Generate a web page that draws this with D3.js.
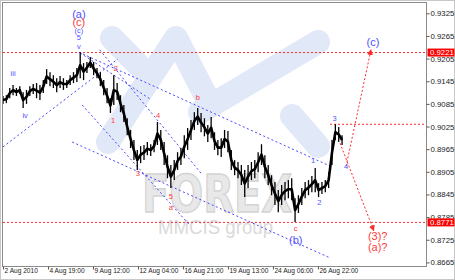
<!DOCTYPE html>
<html>
<head>
<meta charset="utf-8">
<script src="https://cdn.jsdelivr.net/npm/d3@7"></script>
<style>
	body { margin: 0; background: #fff; }
	svg { display: block; font-family: "Liberation Sans", Arial, sans-serif; }
</style>
</head>
<body>
<script>

//axis ticks
var yTickValues = [0.9325, 0.9265, 0.9205, 0.9145, 0.9085, 0.9025, 0.8965, 0.8905, 0.8845, 0.8785, 0.8725, 0.8665];
var xTickBars = [0, 67, 134, 201, 268, 335, 402, 469];
var xTickLabels = ["2 Aug 2010", "4 Aug 19:00", "9 Aug 12:00", "12 Aug 04:00", "16 Aug 21:00", "19 Aug 13:00", "24 Aug 06:00", "26 Aug 22:00"];

//price, one high/low pair every barStep hourly bars
var barStep = 5;
var barHigh = [
	0.9106, 0.9108, 0.9127, 0.9135, 0.9127, 0.9132, 0.9116, 0.9122, 0.9132, 0.9138,
	0.9140, 0.9135, 0.9148, 0.9177, 0.9169, 0.9161, 0.9153, 0.9159, 0.9153, 0.9148,
	0.9161, 0.9169, 0.9180, 0.9222, 0.9193, 0.9196, 0.9209, 0.9196, 0.9180, 0.9169,
	0.9148, 0.9127, 0.9100, 0.9161, 0.9140, 0.9108, 0.9082, 0.9047, 0.9016, 0.8989,
	0.8963, 0.8973, 0.8976, 0.8984, 0.8978, 0.8989, 0.9037, 0.9016, 0.8984, 0.8949,
	0.8923, 0.8936, 0.8957, 0.8968, 0.9002, 0.9021, 0.9042, 0.9063, 0.9074, 0.9061,
	0.9047, 0.9029, 0.9050, 0.9010, 0.8989, 0.8994, 0.9016, 0.9013, 0.8963, 0.8936,
	0.8931, 0.8923, 0.8910, 0.8923, 0.8931, 0.8936, 0.8957, 0.8978, 0.8949, 0.8923,
	0.8896, 0.8878, 0.8857, 0.8870, 0.8878, 0.8883, 0.8888, 0.8835, 0.8843, 0.8862,
	0.8878, 0.8883, 0.8894, 0.8915, 0.8875, 0.8878, 0.8883, 0.8904, 0.8989, 0.9031,
	0.9024, 0.9002
];
var barLow = [
	0.9085, 0.9087, 0.9100, 0.9108, 0.9106, 0.9111, 0.9074, 0.9085, 0.9106, 0.9111,
	0.9100, 0.9095, 0.9114, 0.9138, 0.9132, 0.9127, 0.9116, 0.9127, 0.9122, 0.9127,
	0.9135, 0.9140, 0.9143, 0.9153, 0.9148, 0.9167, 0.9180, 0.9161, 0.9153, 0.9132,
	0.9108, 0.9087, 0.9061, 0.9082, 0.9095, 0.9063, 0.9037, 0.9002, 0.8968, 0.8936,
	0.8910, 0.8928, 0.8936, 0.8949, 0.8947, 0.8957, 0.8976, 0.8963, 0.8923, 0.8888,
	0.8862, 0.8883, 0.8910, 0.8923, 0.8941, 0.8963, 0.8989, 0.9016, 0.9029, 0.9010,
	0.8999, 0.8984, 0.8994, 0.8963, 0.8949, 0.8944, 0.8968, 0.8957, 0.8910, 0.8896,
	0.8888, 0.8870, 0.8838, 0.8862, 0.8883, 0.8888, 0.8904, 0.8923, 0.8888, 0.8870,
	0.8843, 0.8817, 0.8798, 0.8817, 0.8830, 0.8835, 0.8830, 0.8772, 0.8796, 0.8817,
	0.8835, 0.8843, 0.8851, 0.8851, 0.8838, 0.8846, 0.8851, 0.8862, 0.8923, 0.8989,
	0.8984, 0.8976
];

//red target levels (full width) and the level of wave 3
var targetLevels = [0.9221, 0.8771];
var wave3Level = [487, 0.9031];

//blue channel lines, [bar, price] to [bar, price]
var channelLines = [
	[[0, 0.8971], [171, 0.9204]],
	[[113, 0.9222], [491, 0.8917]],
	[[115, 0.9220], [219, 0.9098]],
	[[144, 0.9228], [296, 0.8899]],
	[[118, 0.9082], [278, 0.8764]],
	[[103, 0.8984], [487, 0.8677]]
];

//red forecast arrows
var forecastPaths = [
	[[502, 0.8981], [552, 0.8750]],
	[[511, 0.8920], [548, 0.9228]]
];

//wave counts
var blueBig = [
	{bar: 113, price: 0.9323, text: "(a)"},
	{bar: 436, price: 0.8724, text: "(b)"},
	{bar: 551, price: 0.9249, text: "(c)"}
];
var redBig = [
	{bar: 113, price: 0.9302, text: "(c)"},
	{bar: 558, price: 0.8735, text: "(3)?"},
	{bar: 558, price: 0.8706, text: "(a)?"}
];
var blueSmall = [
	{bar: 113, price: 0.9281, text: "(c)"},
	{bar: 113, price: 0.9260, text: "5"},
	{bar: 113, price: 0.9238, text: "v"},
	{bar: 15, price: 0.9167, text: "iii"},
	{bar: 33, price: 0.9055, text: "iv"},
	{bar: 462, price: 0.8936, text: "1"},
	{bar: 471, price: 0.8825, text: "2"},
	{bar: 494, price: 0.9047, text: "3"},
	{bar: 511, price: 0.8920, text: "4"}
];
var redSmall = [
	{bar: 164, price: 0.9042, text: "1"},
	{bar: 168, price: 0.9180, text: "2"},
	{bar: 201, price: 0.8902, text: "3"},
	{bar: 231, price: 0.9055, text: "4"},
	{bar: 250, price: 0.8840, text: "5"},
	{bar: 250, price: 0.8812, text: "a"},
	{bar: 290, price: 0.9103, text: "b"},
	{bar: 436, price: 0.8756, text: "c"}
];

var params = {
	width: 455,
	height: 280,
	left: 3,
	right: 426,
	top: 3,
	bottom: 266,
	blue: "#4646ff",
	red: "#ff2a2a",
	labelBlue: "#5252ff",
	labelRed: "#ff3c3c"
};

function createSVG(){
	params.svg = d3.select("body").append("svg")
		.attr("width", params.width)
		.attr("height", params.height);

	params.x = d3.scaleLinear()
		.domain([0, 630])
		.range([params.left, params.right]);
	params.y = d3.scaleLinear()
		.domain([0.8665, 0.9325])
		.range([262.4, 13.3]);

	var defs = params.svg.append("defs");
	defs.append("clipPath").attr("id", "plotClip")
		.append("rect")
			.attr("x", params.left).attr("y", params.top)
			.attr("width", params.right - params.left)
			.attr("height", params.bottom - params.top);
	defs.append("marker")
		.attr("id", "arrow")
		.attr("markerUnits", "userSpaceOnUse")
		.attr("markerWidth", 8).attr("markerHeight", 8)
		.attr("refX", 5).attr("refY", 3)
		.attr("orient", "auto")
		.append("path")
			.attr("d", "M0,0L6,3L0,6Z")
			.style("fill", params.red);

	params.plot = params.svg.append("g").attr("clip-path", "url(#plotClip)");
}

//the light logo behind the chart
function drawWatermark(){
	var g = params.plot.append("g").attr("class", "watermark");
	var bands = [
		"M112,38L150,77",
		"M108,142L176,38L210,104",
		"M200,112L318,42",
		"M292,116L318,146"
	];
	g.selectAll("path").data(bands).enter().append("path")
		.attr("d", function(d){ return d; })
		.style("fill", "none")
		.style("stroke", "#e1e8f8")
		.style("stroke-width", 24)
		.style("stroke-linecap", "round")
		.style("stroke-linejoin", "round");

	g.append("text")
		.attr("x", 142).attr("y", 212)
		.attr("textLength", 150).attr("lengthAdjust", "spacingAndGlyphs")
		.style("font-family", "'DejaVu Sans', sans-serif")
		.style("font-weight", "bold")
		.style("font-size", "52px")
		.style("fill", "#e8e8e8")
		.style("stroke", "#d4d4d4")
		.style("stroke-width", 1.5)
		.text("FOREX");
	g.append("text")
		.attr("x", 158).attr("y", 234)
		.attr("textLength", 115).attr("lengthAdjust", "spacingAndGlyphs")
		.style("font-size", "20px")
		.style("fill", "#dadada")
		.text("MMCIS group");
}

function drawAxes(){
	var svg = params.svg;

	//frame
	svg.append("rect")
		.attr("x", 0.5).attr("y", 0.5)
		.attr("width", params.width - 1).attr("height", params.height - 1)
		.style("fill", "none").style("stroke", "#c8c8c8");
	svg.append("rect")
		.attr("x", params.left - 0.5).attr("y", params.top - 0.5)
		.attr("width", params.right - params.left + 1)
		.attr("height", params.bottom - params.top + 1)
		.style("fill", "none").style("stroke", "#8a8a8a");

	//price axis on the right
	var yAxis = d3.axisRight(params.y)
		.tickValues(yTickValues)
		.tickSize(3)
		.tickPadding(1)
		.tickFormat(d3.format(".4f"));
	var gy = svg.append("g")
		.attr("transform", "translate(" + (params.right + 0.5) + ",0)")
		.call(yAxis);
	gy.select(".domain").remove();
	gy.selectAll("line").style("stroke", "#555");
	gy.selectAll("text").style("font-size", "7.8px").style("fill", "#222")
		.style("font-family", "'Liberation Sans', Arial, sans-serif");

	//time axis
	var xAxis = d3.axisBottom(params.x)
		.tickValues(xTickBars)
		.tickSize(3)
		.tickFormat(function(d, i){ return xTickLabels[i]; });
	var gx = svg.append("g")
		.attr("transform", "translate(0," + (params.bottom + 0.5) + ")")
		.call(xAxis);
	gx.select(".domain").remove();
	gx.selectAll("line").style("stroke", "#555");
	gx.selectAll("text")
		.attr("y", 2)
		.attr("x", 1)
		.attr("dy", "0.71em")
		.style("text-anchor", "start")
		.style("font-size", "6.6px")
		.style("fill", "#222")
		.style("font-family", "'Liberation Sans', Arial, sans-serif");

	//red boxes with the target levels
	var boxes = svg.selectAll(".levelBox").data(targetLevels).enter().append("g")
		.attr("class", "levelBox")
		.attr("transform", function(d){ return "translate(" + (params.right + 1.5) + "," + params.y(d) + ")"; });
	boxes.append("rect")
		.attr("x", 0).attr("y", -4)
		.attr("width", params.width - params.right - 2).attr("height", 8)
		.style("fill", "#ff0000");
	boxes.append("text")
		.attr("x", 2.5).attr("dy", "0.33em")
		.style("font-size", "7.8px")
		.style("fill", "#fff")
		.text(function(d){ return d3.format(".4f")(d); });
}

function drawLines(){
	var x = params.x, y = params.y;
	var line = d3.line()
		.x(function(d){ return x(d[0]); })
		.y(function(d){ return y(d[1]); });

	//target levels
	params.plot.selectAll(".level").data(targetLevels).enter().append("line")
		.attr("class", "level")
		.attr("x1", params.left).attr("x2", params.right)
		.attr("y1", function(d){ return y(d); })
		.attr("y2", function(d){ return y(d); })
		.style("stroke", params.red)
		.style("stroke-dasharray", "2,2");
	params.plot.append("line")
		.attr("x1", x(wave3Level[0])).attr("x2", params.right)
		.attr("y1", y(wave3Level[1])).attr("y2", y(wave3Level[1]))
		.style("stroke", params.red)
		.style("stroke-dasharray", "2,2");

	//channels
	params.plot.selectAll(".channel").data(channelLines).enter().append("path")
		.attr("class", "channel")
		.attr("d", line)
		.style("fill", "none")
		.style("stroke", params.blue)
		.style("stroke-dasharray", "2,2.5");

	//forecast
	params.plot.selectAll(".forecast").data(forecastPaths).enter().append("path")
		.attr("class", "forecast")
		.attr("d", line)
		.style("fill", "none")
		.style("stroke", params.red)
		.style("stroke-dasharray", "2,2")
		.attr("marker-end", "url(#arrow)");
}

function drawBars(){
	var x = params.x, y = params.y;
	var bars = barHigh.map(function(h, i){ return {t: i * barStep, hi: h, lo: barLow[i]}; });

	//a thick trace through the middle of each range keeps the bars joined up
	params.plot.append("path")
		.attr("class", "priceMid")
		.attr("d", d3.line()
			.x(function(d){ return x(d.t); })
			.y(function(d){ return y((d.hi + d.lo) / 2); })(bars))
		.style("fill", "none")
		.style("stroke", "#000")
		.style("stroke-width", 2.6)
		.style("stroke-linejoin", "round");

	params.plot.append("g").attr("class", "bars")
		.selectAll("line").data(bars).enter().append("line")
			.attr("x1", function(d){ return x(d.t); })
			.attr("x2", function(d){ return x(d.t); })
			.attr("y1", function(d){ return y(d.hi); })
			.attr("y2", function(d){ return y(d.lo); })
			.style("stroke", "#000")
			.style("stroke-width", 1.3);
}

function drawLabels(data, color, size){
	params.svg.append("g").selectAll("text").data(data).enter().append("text")
		.attr("x", function(d){ return params.x(d.bar); })
		.attr("y", function(d){ return params.y(d.price); })
		.attr("dy", "0.35em")
		.style("text-anchor", "middle")
		.style("font-size", size + "px")
		.style("fill", color)
		.text(function(d){ return d.text; });
}

///////////////////////////////
//runs on load
createSVG();
drawWatermark();
drawLines();
drawBars();
drawAxes();
drawLabels(blueBig, params.labelBlue, 11);
drawLabels(redBig, params.labelRed, 11);
drawLabels(blueSmall, params.labelBlue, 7.5);
drawLabels(redSmall, params.labelRed, 7.5);

</script>
</body>
</html>
